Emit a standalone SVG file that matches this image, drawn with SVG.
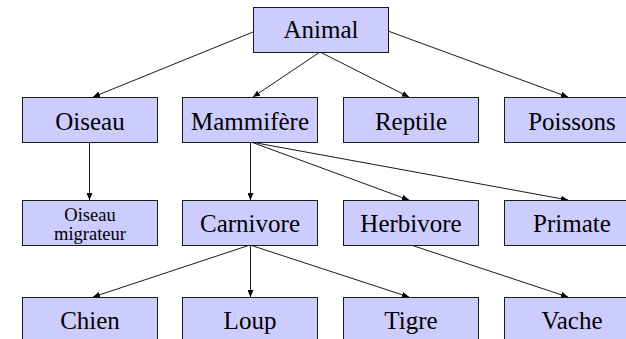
<svg xmlns="http://www.w3.org/2000/svg" width="626" height="339" viewBox="0 0 626 339">
<defs>
<style>
.box{fill:#ccccff;stroke:#1a1a1a;stroke-width:1}
.t{font-family:"Liberation Serif","Times New Roman",serif;font-size:25px;fill:#000;text-anchor:middle}
.s{font-size:18.5px}
.c line{stroke:#1a1a1a;stroke-width:1;marker-end:url(#ah)}
</style>
<marker id="ah" markerUnits="userSpaceOnUse" markerWidth="8" markerHeight="6" refX="7" refY="3" orient="auto">
<path d="M0,0 L7,3 L0,6 z" fill="#000"/>
</marker>
</defs>
<rect width="626" height="339" fill="#fff"/>
<g id="connectors" class="c">
<line x1="253" y1="32" x2="93" y2="97"/>
<line x1="320" y1="52" x2="253" y2="97"/>
<line x1="320" y1="52" x2="409" y2="97"/>
<line x1="388" y1="31" x2="568" y2="97"/>
<line x1="89.5" y1="142" x2="89.5" y2="200"/>
<line x1="250.5" y1="142" x2="250.5" y2="200"/>
<line x1="251" y1="142" x2="409" y2="200"/>
<line x1="251" y1="142" x2="568" y2="200"/>
<line x1="250" y1="245" x2="93" y2="297"/>
<line x1="250.5" y1="245" x2="250.5" y2="297"/>
<line x1="250" y1="245" x2="409" y2="297"/>
<line x1="411" y1="245" x2="568" y2="297"/>
</g>
<g id="animal"><rect class="box" x="253.5" y="7.5" width="135" height="45"/><text class="t" x="321" y="38">Animal</text></g>
<g id="oiseau"><rect class="box" x="22.5" y="97.5" width="135" height="45"/><text class="t" x="90" y="130">Oiseau</text></g>
<g id="mammifere"><rect class="box" x="182.5" y="97.5" width="135" height="45"/><text class="t" x="250" y="130">Mammifère</text></g>
<g id="reptile"><rect class="box" x="343.5" y="97.5" width="135" height="45"/><text class="t" x="411" y="130">Reptile</text></g>
<g id="poissons"><rect class="box" x="504.5" y="97.5" width="135" height="45"/><text class="t" x="572" y="130">Poissons</text></g>
<g id="oiseau-migrateur"><rect class="box" x="22.5" y="200.5" width="135" height="45"/><text class="t s" x="90" y="221">Oiseau</text><text class="t s" x="90" y="240">migrateur</text></g>
<g id="carnivore"><rect class="box" x="182.5" y="200.5" width="135" height="45"/><text class="t" x="250" y="232">Carnivore</text></g>
<g id="herbivore"><rect class="box" x="343.5" y="200.5" width="135" height="45"/><text class="t" x="411" y="232">Herbivore</text></g>
<g id="primate"><rect class="box" x="504.5" y="200.5" width="135" height="45"/><text class="t" x="572" y="232">Primate</text></g>
<g id="chien"><rect class="box" x="22.5" y="297.5" width="135" height="45"/><text class="t" x="90" y="329">Chien</text></g>
<g id="loup"><rect class="box" x="182.5" y="297.5" width="135" height="45"/><text class="t" x="250" y="329">Loup</text></g>
<g id="tigre"><rect class="box" x="343.5" y="297.5" width="135" height="45"/><text class="t" x="411" y="329">Tigre</text></g>
<g id="vache"><rect class="box" x="504.5" y="297.5" width="135" height="45"/><text class="t" x="572" y="329">Vache</text></g>
</svg>
